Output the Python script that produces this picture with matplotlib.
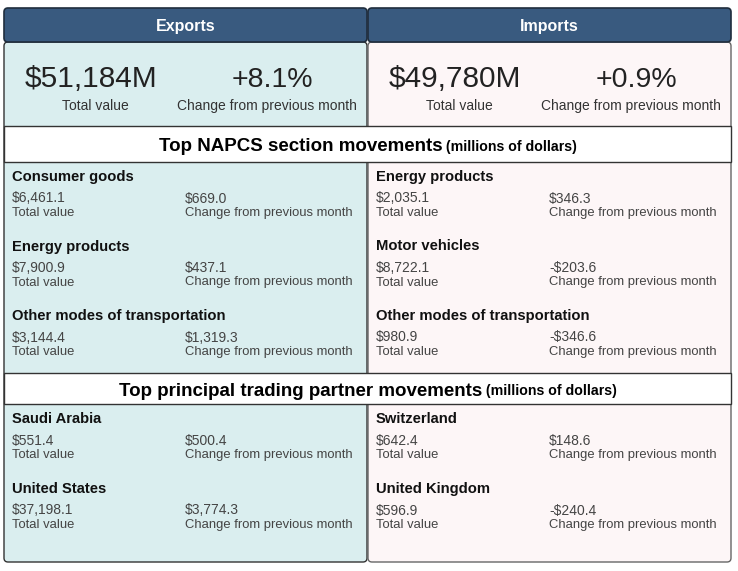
import matplotlib
matplotlib.use("Agg")
import matplotlib.pyplot as plt
from matplotlib.patches import FancyBboxPatch, Rectangle

plt.rcParams['font.family'] = ['Liberation Sans', 'DejaVu Sans']

# data
sides = ["Exports", "Imports"]
totals = ["$51,184M", "$49,780M"]
changes = ["+8.1%", "+0.9%"]

napcs_names = [["Consumer goods", "Energy products", "Other modes of transportation"],
               ["Energy products", "Motor vehicles", "Other modes of transportation"]]
napcs_values = [["$6,461.1", "$7,900.9", "$3,144.4"],
                ["$2,035.1", "$8,722.1", "$980.9"]]
napcs_changes = [["$669.0", "$437.1", "$1,319.3"],
                 ["$346.3", "-$203.6", "-$346.6"]]

partner_names = [["Saudi Arabia", "United States"],
                 ["Switzerland", "United Kingdom"]]
partner_values = [["$551.4", "$37,198.1"],
                  ["$642.4", "$596.9"]]
partner_changes = [["$500.4", "$3,774.3"],
                   ["$148.6", "-$240.4"]]

section_titles = ["Top NAPCS section movements", "Top principal trading partner movements"]
unit_note = " (millions of dollars)"

W, H = 738, 571
fig = plt.figure(figsize=(W / 100, H / 100), dpi=100)
ax = fig.add_axes([0, 0, 1, 1])
ax.set_xlim(0, W)
ax.set_ylim(H, 0)
ax.axis("off")

panel_x = [4, 368]
panel_w = 363
panel_fill = ["#daeeef", "#fdf6f7"]
panel_edge = ["#333333", "#666666"]

for i in range(2):
    x0 = panel_x[i]
    ax.add_patch(FancyBboxPatch((x0, 42), panel_w, 520, boxstyle="round,pad=0,rounding_size=4",
                                fc=panel_fill[i], ec=panel_edge[i], lw=1, zorder=1))
    ax.add_patch(FancyBboxPatch((x0, 8), panel_w, 34, boxstyle="round,pad=0,rounding_size=4",
                                fc="#395a7f", ec="#1f2d3d", lw=1.2, zorder=2))
    ax.text(x0 + panel_w / 2, 30.5, sides[i], color="white", fontsize=11.5, fontweight="bold",
            ha="center", va="baseline", zorder=3)
    # summary
    ax.text(x0 + 87, 87, totals[i], fontsize=21.5, color="#222222", ha="center", va="baseline", zorder=3)
    ax.text(x0 + 91, 110, "Total value", fontsize=10, color="#333333", ha="center", va="baseline", zorder=3)
    ax.text(x0 + 268, 87, changes[i], fontsize=20.5, color="#222222", ha="center", va="baseline", zorder=3)
    ax.text(x0 + 263, 110, "Change from previous month", fontsize=10, color="#333333",
            ha="center", va="baseline", zorder=3)

# section bands
bands = [(126, 36), (373, 31)]
fig.canvas.draw()
renderer = fig.canvas.get_renderer()
for (by, bh), title in zip(bands, section_titles):
    ax.add_patch(Rectangle((4, by), 727, bh, fc="white", ec="#333333", lw=1, zorder=4))
    base = by + bh / 2 + 7
    t1 = ax.text(0, base, title, fontsize=13.5, fontweight="bold", ha="left", va="baseline", zorder=5)
    t2 = ax.text(0, base, unit_note, fontsize=10.2, fontweight="bold", ha="left", va="baseline", zorder=5)
    w1 = t1.get_window_extent(renderer).width
    w2 = t2.get_window_extent(renderer).width
    start = 368 - (w1 + w2) / 2
    t1.set_x(start)
    t2.set_x(start + w1)


def draw_items(x0, y0, names, values, chgs, step):
    for k in range(len(names)):
        y = y0 + k * step
        ax.text(x0 + 8, y + 5, names[k], fontsize=10.6, fontweight="bold", color="#111111",
                ha="left", va="baseline", zorder=3)
        ax.text(x0 + 8, y + 26.5, values[k], fontsize=10, color="#444444", ha="left", va="baseline", zorder=3)
        ax.text(x0 + 8, y + 40, "Total value", fontsize=9.4, color="#444444", ha="left", va="baseline", zorder=3)
        ax.text(x0 + 181, y + 26.5, chgs[k], fontsize=10, color="#444444", ha="left", va="baseline", zorder=3)
        ax.text(x0 + 181, y + 40, "Change from previous month", fontsize=9.4, color="#444444",
                ha="left", va="baseline", zorder=3)


for i in range(2):
    draw_items(panel_x[i], 176, napcs_names[i], napcs_values[i], napcs_changes[i], 69.5)
    draw_items(panel_x[i], 418, partner_names[i], partner_values[i], partner_changes[i], 70)

fig.savefig("out.png", dpi=100)
